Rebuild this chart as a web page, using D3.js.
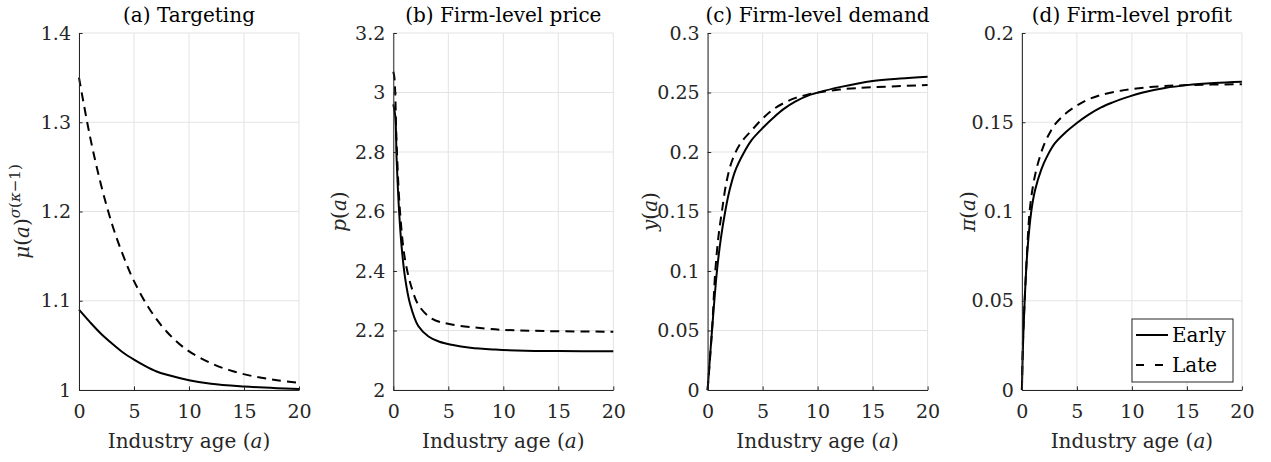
<!DOCTYPE html>
<html>
<head>
<meta charset="utf-8">
<script src="https://cdn.jsdelivr.net/npm/d3@7"></script>
<style>
	body { margin: 0; background: #fff; }
	svg { display: block; font-family: 'DejaVu Serif', 'Liberation Serif', serif; }
	.grid line { stroke: #e3e3e3; stroke-width: 1; }
	.axis path, .axis line { stroke: #262626; }
	.axis text { fill: #262626; font-size: 19px; font-family: 'DejaVu Serif', 'Liberation Serif', serif; }
	.curve { fill: none; stroke: #000; stroke-width: 2; }
</style>
</head>
<body>
<script>
// values, [industry age, value]
var targetingEarly = [[0, 1.09], [1, 1.076], [2, 1.063], [3, 1.052], [4, 1.042], [5, 1.034], [6, 1.027], [7, 1.021],
	[8, 1.017], [10, 1.011], [12, 1.007], [15, 1.004], [18, 1.002], [20, 1.001]];
var targetingLate = [[0, 1.35], [1, 1.284], [2, 1.23], [3, 1.186], [4, 1.151], [5, 1.122], [6.45, 1.09], [8, 1.065],
	[9.8, 1.045], [12, 1.03], [14, 1.021], [16, 1.015], [18, 1.011], [20, 1.008]];

var priceEarly = [[0, 2.96], [0.18, 2.92], [0.3, 2.78], [0.52, 2.605], [0.76, 2.48], [1.06, 2.38], [1.52, 2.29],
	[2.27, 2.215], [3.2, 2.18], [4.2, 2.162], [5.3, 2.152], [7, 2.142], [9.25, 2.136], [12, 2.132], [15, 2.131], [20, 2.13]];
var priceLate = [[0, 3.07], [0.1, 3.05], [0.3, 2.83], [0.6, 2.605], [1.06, 2.44], [1.7, 2.34], [2.3, 2.285],
	[3.5, 2.24], [5.3, 2.22], [8.3, 2.207], [10, 2.202], [14, 2.198], [20, 2.196]];

var demandEarly = [[0, 0], [0.4, 0.05], [0.85, 0.10], [1.2, 0.127], [1.6, 0.15], [2, 0.168], [2.5, 0.184], [3.27, 0.199],
	[4, 0.21], [5.1, 0.221], [6, 0.229], [6.9, 0.236], [8, 0.2425], [9.3, 0.248], [10, 0.2499], [12, 0.2545],
	[15, 0.2597], [17.5, 0.2618], [20, 0.2633]];
var demandLate = [[0, 0], [0.4, 0.05], [0.7, 0.10], [1, 0.13], [1.3, 0.15], [1.7, 0.174], [2.2, 0.192], [2.97, 0.207],
	[4.03, 0.2185], [5.1, 0.229], [6, 0.236], [6.9, 0.241], [8, 0.2455], [9, 0.248], [10, 0.2499], [12, 0.2525],
	[15, 0.2544], [20, 0.2563]];

var profitEarly = [[0, 0], [0.1, 0.025], [0.25, 0.05], [0.5, 0.078], [0.85, 0.10], [1.2, 0.112], [1.76, 0.1235],
	[2.3, 0.131], [2.97, 0.138], [4, 0.1445], [5, 0.1496], [6, 0.154], [7.2, 0.1583], [8.2, 0.161], [9.3, 0.1635],
	[11, 0.1667], [13, 0.1692], [15, 0.1708], [17.5, 0.172], [20, 0.1727]];
var profitLate = [[0, 0], [0.1, 0.028], [0.25, 0.05], [0.45, 0.075], [0.7, 0.10], [1, 0.114], [1.3, 0.1232],
	[1.65, 0.131], [2.06, 0.1382], [2.5, 0.1437], [2.97, 0.1485], [4, 0.155], [5.1, 0.1597], [6, 0.1627],
	[7.2, 0.1653], [9.3, 0.168], [12, 0.1699], [15, 0.1708], [20, 0.1713]];

var titles = ['(a) Targeting', '(b) Firm-level price', '(c) Firm-level demand', '(d) Firm-level profit'];
var xTicks = [0, 5, 10, 15, 20];
var yTicksA = [1, 1.1, 1.2, 1.3, 1.4];
var yTicksB = [2, 2.2, 2.4, 2.6, 2.8, 3, 3.2];
var yTicksC = [0, 0.05, 0.1, 0.15, 0.2, 0.25, 0.3];
var yTicksD = [0, 0.05, 0.1, 0.15, 0.2];
var legendLabels = ['Early', 'Late'];

var width = 1271, height = 462;
var plotTop = 33, plotHeight = 357, plotWidth = 220,
	firstLeft = 79, panelStep = 314.3,
	tickLen = 3.6, fontSize = 19;

var panels = [
	{ title: titles[0], ticks: yTicksA, series: [targetingEarly, targetingLate], ylabel: 'mu', labelOffset: -50 },
	{ title: titles[1], ticks: yTicksB, series: [priceEarly, priceLate], ylabel: 'p', labelOffset: -47 },
	{ title: titles[2], ticks: yTicksC, series: [demandEarly, demandLate], ylabel: 'y', labelOffset: -51 },
	{ title: titles[3], ticks: yTicksD, series: [profitEarly, profitLate], ylabel: 'π', labelOffset: -47 }
];
var dashes = [null, '9,6'];

var svg = d3.select('body').append('svg')
	.attr('width', width)
	.attr('height', height);

panels.forEach(function (p, i) {
	var left = firstLeft + i * panelStep;
	var x = d3.scaleLinear().domain([0, 20]).range([0, plotWidth]);
	var y = d3.scaleLinear().domain(d3.extent(p.ticks)).range([plotHeight, 0]);

	var g = svg.append('g').attr('transform', 'translate(' + left + ',' + plotTop + ')');

	// grid lines
	var grid = g.append('g').attr('class', 'grid');
	grid.selectAll('.gx').data(xTicks).enter().append('line')
		.attr('x1', x).attr('x2', x).attr('y1', 0).attr('y2', plotHeight);
	grid.selectAll('.gy').data(p.ticks).enter().append('line')
		.attr('x1', 0).attr('x2', plotWidth).attr('y1', y).attr('y2', y);

	// curves
	var line = d3.line()
		.x(function (d) { return x(d[0]); })
		.y(function (d) { return y(d[1]); })
		.curve(d3.curveCatmullRom.alpha(0.5));
	p.series.forEach(function (s, k) {
		g.append('path').attr('class', 'curve')
			.attr('d', line(s))
			.attr('stroke-dasharray', dashes[k]);
	});

	// axes, MATLAB style inward ticks
	var xAxisEl = g.append('g').attr('class', 'axis')
		.attr('transform', 'translate(0,' + plotHeight + ')')
		.call(d3.axisBottom(x).tickValues(xTicks).tickSizeInner(-tickLen).tickSizeOuter(0).tickPadding(10));
	xAxisEl.selectAll('text').attr('dy', '0.95em');
	g.append('g').attr('class', 'axis')
		.call(d3.axisLeft(y).tickValues(p.ticks).tickSizeInner(-tickLen).tickSizeOuter(0).tickPadding(8)
			.tickFormat(function (d) { return String(d); }));

	// title
	g.append('text')
		.attr('x', plotWidth / 2).attr('y', -11)
		.attr('text-anchor', 'middle')
		.attr('font-size', fontSize + 1).attr('fill', '#000')
		.text(p.title);

	// x label
	var xl = g.append('text')
		.attr('x', plotWidth / 2).attr('y', plotHeight + 58)
		.attr('text-anchor', 'middle')
		.attr('font-size', fontSize + 1).attr('fill', '#262626');
	xl.append('tspan').text('Industry age (');
	xl.append('tspan').attr('font-style', 'italic').text('a');
	xl.append('tspan').text(')');

	// y label
	var yl = g.append('text')
		.attr('transform', 'translate(' + p.labelOffset + ',' + plotHeight / 2 + ') rotate(-90)')
		.attr('text-anchor', 'middle')
		.attr('font-size', fontSize + 1).attr('fill', '#262626');
	if (p.ylabel === 'mu') {
		yl.append('tspan').attr('font-style', 'italic').text('μ');
		yl.append('tspan').text('(');
		yl.append('tspan').attr('font-style', 'italic').text('a');
		yl.append('tspan').text(')');
		var sup = yl.append('tspan').attr('font-size', 15).attr('dy', -9);
		sup.append('tspan').attr('font-style', 'italic').text('σ');
		sup.append('tspan').text('(');
		sup.append('tspan').attr('font-style', 'italic').text('κ');
		sup.append('tspan').text('−1)');
	} else {
		yl.append('tspan').attr('font-style', 'italic').text(p.ylabel);
		yl.append('tspan').text('(');
		yl.append('tspan').attr('font-style', 'italic').text('a');
		yl.append('tspan').text(')');
	}

	// legend in last panel
	if (i === 3) {
		var lg = g.append('g').attr('transform', 'translate(' + (1132 - left) + ',' + (319 - plotTop) + ')');
		lg.append('rect').attr('width', 101).attr('height', 63)
			.attr('fill', '#fff').attr('stroke', '#262626').attr('stroke-width', 1);
		legendLabels.forEach(function (name, k) {
			var ly = 16 + k * 30;
			lg.append('line').attr('class', 'curve')
				.attr('x1', 4).attr('x2', 36).attr('y1', ly).attr('y2', ly)
				.attr('stroke-dasharray', k ? '8,11' : null);
			lg.append('text').attr('x', 40).attr('y', ly).attr('dy', '0.35em')
				.attr('font-size', fontSize + 1).attr('fill', '#000').text(name);
		});
	}
});
</script>
</body>
</html>
